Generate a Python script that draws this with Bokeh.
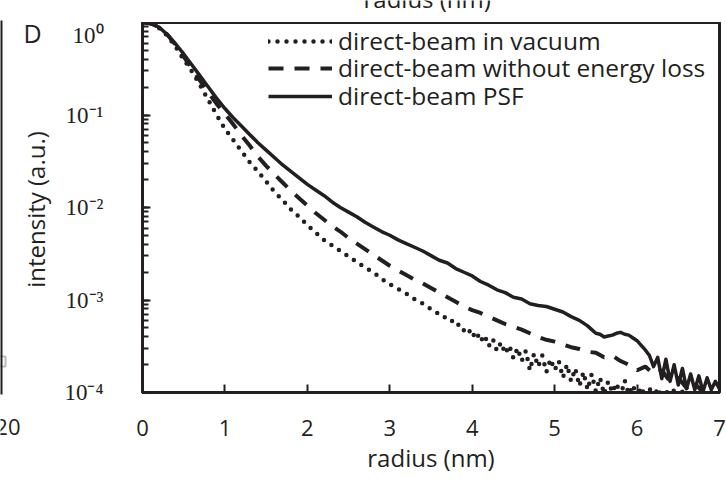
import numpy as np
from bokeh.plotting import figure
from bokeh.layouts import row, column
from bokeh.models import (Legend, LegendItem, Label, BoxAnnotation, CustomJSTickFormatter,
                          FixedTicker, LogTicker, Range1d)
from bokeh.embed import file_html
from bokeh.resources import INLINE

INK = "#231f20"
SANS = "Open Sans"
SERIF = "Liberation Serif"

# ---------------- data ----------------
x_ticks = [0, 1, 2, 3, 4, 5, 6, 7]

psf_r = [0.0, 0.1, 0.2, 0.3, 0.4, 0.5, 0.6, 0.7, 0.8, 0.9,
         1.0, 1.1, 1.2, 1.3, 1.4, 1.5, 1.6, 1.7, 1.8, 1.9,
         2.0, 2.1, 2.2, 2.3, 2.4, 2.5, 2.6, 2.7, 2.8, 2.9,
         3.0, 3.1, 3.2, 3.3, 3.4, 3.5, 3.6, 3.7, 3.8, 3.9,
         4.0, 4.1, 4.2, 4.3, 4.4, 4.5, 4.6, 4.7, 4.8, 4.9,
         5.0, 5.1, 5.2, 5.3, 5.4, 5.45, 5.5, 5.55, 5.6, 5.65,
         5.7, 5.75, 5.8, 5.85, 5.9, 5.95, 6.0, 6.05, 6.1, 6.15,
         6.2, 6.25, 6.3, 6.35, 6.4, 6.45, 6.5, 6.55, 6.6, 6.65,
         6.7, 6.75, 6.8, 6.85, 6.9, 6.95, 7.0]
psf_log10 = [0.0, -0.01, -0.05, -0.13, -0.23, -0.34, -0.46, -0.58, -0.70, -0.82,
             -0.93, -1.03, -1.12, -1.21, -1.30, -1.38, -1.46, -1.54, -1.61, -1.68,
             -1.75, -1.81, -1.87, -1.94, -2.00, -2.05, -2.10, -2.16, -2.21, -2.26,
             -2.30, -2.35, -2.39, -2.43, -2.47, -2.52, -2.57, -2.60, -2.66, -2.70,
             -2.74, -2.80, -2.84, -2.89, -2.92, -2.97, -2.99, -3.04, -3.06, -3.07,
             -3.10, -3.13, -3.18, -3.22, -3.28, -3.32, -3.36, -3.37, -3.40, -3.39,
             -3.38, -3.36, -3.35, -3.37, -3.38, -3.41, -3.44, -3.49, -3.54, -3.60,
             -3.72, -3.62, -3.85, -3.64, -3.88, -3.70, -3.92, -3.74, -3.96, -3.80,
             -3.97, -3.82, -3.99, -3.84, -3.97, -3.88, -3.96]

noloss_r = [0.0, 0.1, 0.2, 0.3, 0.4, 0.5, 0.6, 0.7, 0.8, 0.9,
            1.0, 1.1, 1.2, 1.3, 1.4, 1.5, 1.6, 1.7, 1.8, 1.9,
            2.0, 2.1, 2.2, 2.3, 2.4, 2.5, 2.6, 2.7, 2.8, 2.9,
            3.0, 3.1, 3.2, 3.3, 3.4, 3.5, 3.6, 3.7, 3.8, 3.9,
            4.0, 4.1, 4.2, 4.3, 4.4, 4.5, 4.6, 4.7, 4.8, 4.9,
            5.0, 5.1, 5.2, 5.3, 5.4, 5.5, 5.6, 5.7, 5.8, 5.9,
            6.0, 6.1, 6.2, 6.3, 6.4, 6.5, 6.6, 6.7, 6.8, 6.9, 7.0]
noloss_log10 = [0.0, -0.01, -0.05, -0.13, -0.24, -0.37, -0.50, -0.63, -0.76, -0.88,
                -0.99, -1.10, -1.22, -1.33, -1.45, -1.55, -1.64, -1.73, -1.82, -1.90,
                -1.98, -2.06, -2.13, -2.20, -2.26, -2.33, -2.39, -2.45, -2.51, -2.57,
                -2.63, -2.68, -2.73, -2.78, -2.82, -2.87, -2.92, -2.97, -3.02, -3.07,
                -3.11, -3.14, -3.18, -3.22, -3.26, -3.29, -3.32, -3.36, -3.40, -3.43,
                -3.45, -3.48, -3.51, -3.53, -3.56, -3.57, -3.62, -3.60, -3.66, -3.70,
                -3.76, -3.72, -3.80, -3.76, -3.88, -3.84, -3.95, -3.90, -4.00, -4.05, -4.02]

vac_r = [0.0, 0.1, 0.2, 0.3, 0.4, 0.5, 0.6, 0.7, 0.8, 0.9,
         1.0, 1.1, 1.2, 1.3, 1.4, 1.5, 1.6, 1.7, 1.8, 1.9,
         2.0, 2.1, 2.2, 2.3, 2.4, 2.5, 2.6, 2.7, 2.8, 2.9,
         3.0, 3.1, 3.2, 3.3, 3.4, 3.5,
         3.55, 3.6, 3.65, 3.7, 3.75, 3.8, 3.85, 3.9, 3.95, 4.0,
         4.05, 4.1, 4.15, 4.2, 4.25, 4.3, 4.35, 4.4, 4.45, 4.5,
         4.55, 4.6, 4.65, 4.7, 4.75, 4.8, 4.85, 4.9, 4.95, 5.0,
         5.05, 5.1, 5.15, 5.2, 5.25, 5.3, 5.35, 5.4, 5.45, 5.5,
         5.55, 5.6, 5.65, 5.7, 5.75, 5.8, 5.85, 5.9, 5.95, 6.0,
         6.05, 6.1, 6.15, 6.2, 6.25, 6.3, 6.35, 6.4, 6.45, 6.5,
         6.55, 6.6, 6.65, 6.7, 6.75, 6.8, 6.85, 6.9, 6.95, 7.0]
vac_log10 = [0.0, -0.01, -0.06, -0.14, -0.26, -0.40, -0.53, -0.68, -0.84, -1.00,
             -1.15, -1.27, -1.39, -1.51, -1.61, -1.72, -1.83, -1.92, -2.02, -2.10,
             -2.19, -2.27, -2.35, -2.41, -2.47, -2.53, -2.59, -2.65, -2.70, -2.77,
             -2.83, -2.88, -2.93, -2.99, -3.04, -3.10,
             -3.12, -3.16, -3.17, -3.22, -3.22, -3.28, -3.26, -3.33, -3.30, -3.40,
             -3.34, -3.45, -3.38, -3.50, -3.42, -3.55, -3.46, -3.58, -3.49, -3.63,
             -3.52, -3.66, -3.55, -3.76, -3.58, -3.72, -3.60, -3.78, -3.64, -3.76,
             -3.66, -3.84, -3.70, -3.88, -3.74, -3.93, -3.78, -3.97, -3.80, -3.99,
             -3.84, -4.02, -3.88, -4.00, -3.90, -4.04, -3.87, -4.02, -3.92, -4.06,
             -3.94, -4.05, -3.95, -4.07, -3.95, -4.06, -3.97, -4.08, -3.97, -4.06,
             -3.99, -4.09, -3.97, -4.06, -3.99, -4.08, -3.98, -4.06, -4.00, -4.07]

series_labels = ["direct-beam in vacuum", "direct-beam without energy loss", "direct-beam PSF"]

psf_I = np.power(10.0, psf_log10)
noloss_I = np.power(10.0, noloss_log10)
vac_I = np.power(10.0, vac_log10)

# ---------------- layout geometry (pixels) ----------------
W_LEFT = 56          # strip holding the panel letter and the y title
FRAME_L, FRAME_R, FRAME_T, FRAME_B = 142, 719, 22, 392
W_MAIN = 726 - W_LEFT

# ---------------- main panel ----------------
p = figure(width=W_MAIN, height=483 - FRAME_T, y_axis_type="log",
           x_range=Range1d(0, 7), y_range=Range1d(1e-4, 1),
           output_backend="svg", toolbar_location=None,
           min_border_left=FRAME_L - W_LEFT, min_border_right=726 - FRAME_R,
           min_border_top=0, min_border_bottom=483 - FRAME_B)
p.background_fill_color = "white"
p.border_fill_color = "white"
p.xgrid.grid_line_color = None
p.ygrid.grid_line_color = None
p.outline_line_color = INK
p.outline_line_width = 3
p.outline_line_alpha = 1

r_vac = p.line(vac_r, vac_I, line_color=INK, line_width=4.5, line_dash="0 9", line_cap="round")
r_nl = p.line(noloss_r, noloss_I, line_color=INK, line_width=4, line_dash="15 11")
r_psf = p.line(psf_r, psf_I, line_color=INK, line_width=3.5, line_join="round")

xa = p.xaxis[0]
xa.ticker = FixedTicker(ticks=x_ticks, minor_ticks=[])
xa.axis_line_color = INK
xa.axis_line_width = 3
xa.major_tick_line_color = INK
xa.major_tick_line_width = 2
xa.major_tick_in = 8
xa.major_tick_out = 0
xa.minor_tick_line_color = None
xa.major_label_text_font = SANS
xa.major_label_text_font_size = "22px"
xa.major_label_text_color = INK
xa.major_label_standoff = 27
xa.axis_label = "radius (nm)"
xa.axis_label_text_font = SANS
xa.axis_label_text_font_size = "24px"
xa.axis_label_text_font_style = "normal"
xa.axis_label_text_color = INK
xa.axis_label_standoff = 2

ya = p.yaxis[0]
ya.ticker = LogTicker(num_minor_ticks=10, desired_num_ticks=6)
ya.axis_line_color = INK
ya.axis_line_width = 3
ya.major_tick_line_color = INK
ya.major_tick_line_width = 2
ya.major_tick_in = 8
ya.major_tick_out = 0
ya.minor_tick_line_color = INK
ya.minor_tick_line_width = 2
ya.minor_tick_in = 6
ya.minor_tick_out = 0
ya.formatter = CustomJSTickFormatter(code="""
    const sup = {"0": "\u2070", "1": "\u00b9", "2": "\u00b2", "3": "\u00b3", "4": "\u2074",
                 "5": "\u2075", "6": "\u2076", "7": "\u2077", "8": "\u2078", "9": "\u2079",
                 "-": "\u207b"};
    const e = String(Math.round(Math.log10(tick)));
    return "10" + e.split("").map((c) => sup[c]).join("");
""")
ya.major_label_text_font = SERIF
ya.major_label_text_font_size = "23px"
ya.major_label_text_color = INK
ya.major_label_standoff = 39

# one legend per entry so the row pitch can match the reference
legend_rows = [(r_vac, 335), (r_nl, 308), (r_psf, 280)]
for (rend, vy), lab in zip(legend_rows, series_labels):
    p.add_layout(Legend(items=[LegendItem(label=lab, renderers=[rend])],
                        location=(126, vy), border_line_color=None, background_fill_alpha=0,
                        glyph_width=64, glyph_height=20, label_height=20, label_standoff=6,
                        spacing=0, padding=0, margin=0,
                        label_text_font=SANS, label_text_font_size="24.5px",
                        label_text_color=INK))

# ---------------- left strip: panel letter, y title, neighbour fragments ----------------
left = figure(width=W_LEFT, height=483, x_range=Range1d(0, W_LEFT), y_range=Range1d(483, 0),
              output_backend="svg", toolbar_location=None, min_border=0,
              x_axis_location=None, y_axis_location=None)
left.outline_line_color = None
left.xgrid.grid_line_color = None
left.ygrid.grid_line_color = None
left.background_fill_color = "white"
left.border_fill_color = "white"
left.add_layout(Label(x=23, y=32, text="D", text_font=SANS, text_font_size="25px",
                      text_color=INK, text_baseline="alphabetic", text_align="left"))
left.add_layout(Label(x=35, y=209, text="intensity (a.u.)", angle=np.pi / 2,
                      text_font=SANS, text_font_size="24px", text_color=INK,
                      text_baseline="middle", text_align="center"))
left.add_layout(Label(x=20, y=426, text="20", text_font=SANS, text_font_size="22px",
                      text_color=INK, text_baseline="alphabetic", text_align="right"))
left.add_layout(BoxAnnotation(left=-1, right=2, top=20, bottom=394, fill_color=INK,
                              fill_alpha=1, line_color=None))
left.add_layout(BoxAnnotation(left=-2, right=5, top=356, bottom=366, fill_alpha=0,
                              line_color=INK, line_width=2))

# ---------------- top strip: fragment of the upper panel's axis title ----------------
top = figure(width=W_MAIN, height=FRAME_T, x_range=Range1d(FRAME_L, FRAME_R),
             y_range=Range1d(FRAME_T, 0),
             output_backend="svg", toolbar_location=None,
             min_border_left=FRAME_L - W_LEFT, min_border_right=726 - FRAME_R,
             min_border_top=0, min_border_bottom=0,
             x_axis_location=None, y_axis_location=None)
top.outline_line_color = None
top.xgrid.grid_line_color = None
top.ygrid.grid_line_color = None
top.background_fill_color = "white"
top.border_fill_color = "white"
top.add_layout(Label(x=363, y=-2, text="radius (nm)", text_font=SANS,
                     text_font_size="24px", text_color=INK,
                     text_baseline="alphabetic", text_align="left"))

layout = row(left, column(top, p, spacing=0), spacing=0)
open("out.html", "w").write(file_html(layout, INLINE))
